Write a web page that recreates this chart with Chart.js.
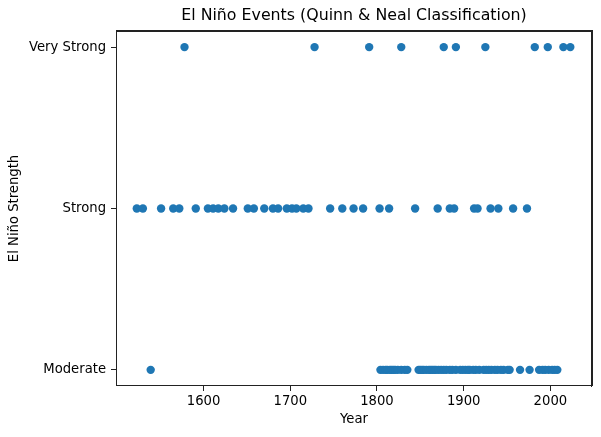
<!DOCTYPE html>
<html>
<head>
<meta charset="utf-8">
<script src="https://cdn.jsdelivr.net/npm/chart.js@4.4.1/dist/chart.umd.min.js"></script>
<style>
  html, body { margin: 0; padding: 0; background: #fff; }
  #wrap { width: 601px; height: 437px; position: relative; }
</style>
</head>
<body>
<div id="wrap"><canvas id="c"></canvas></div>
<script>
// Category labels (y axis, bottom to top)
const strengthLabels = ['Moderate', 'Strong', 'Very Strong'];
// X tick labels
const yearTicks = [1600, 1700, 1800, 1900, 2000];

// Event start years by strength
const moderateYears = [1539, 1804, 1807, 1810, 1812, 1815, 1817, 1819, 1821, 1824, 1828, 1832, 1835,
  1848, 1850, 1852, 1854, 1857, 1860, 1862, 1864, 1866, 1868, 1871, 1874, 1877, 1880, 1884, 1887,
  1891, 1896, 1899, 1902, 1905, 1907, 1911, 1914, 1918, 1923, 1926, 1929, 1932, 1936, 1939, 1943,
  1946, 1951, 1953, 1965, 1976, 1987, 1991, 1994, 1998, 2002, 2005, 2008];
const strongYears = [1523, 1530, 1551, 1565, 1572, 1591, 1605, 1611, 1617, 1624, 1634, 1651, 1658,
  1670, 1680, 1686, 1696, 1702, 1707, 1715, 1721, 1746, 1760, 1773, 1784, 1803, 1814, 1844, 1870,
  1884, 1889, 1912, 1916, 1931, 1940, 1957, 1973];
const veryStrongYears = [1578, 1728, 1791, 1828, 1877, 1891, 1925, 1982, 1997, 2015, 2023];

const pts = [];
moderateYears.forEach(y => pts.push({x: y, y: 0}));
strongYears.forEach(y => pts.push({x: y, y: 1}));
veryStrongYears.forEach(y => pts.push({x: y, y: 2}));

const FONT = "'DejaVu Sans', sans-serif";
const SPINE = '#222';

const frame = {
  id: 'frame',
  afterDraw(chart) {
    const {ctx, chartArea: a} = chart;
    const l = Math.round(a.left), t = Math.round(a.top), r = Math.round(a.right), b = Math.round(a.bottom);
    ctx.save();
    ctx.fillStyle = SPINE;
    ctx.fillRect(l, t, r - l, 1);
    ctx.fillRect(r - 1, t, 1, b - t + 1);
    ctx.restore();
  }
};

const spineOnly = (pos) => ({
  type: 'linear',
  position: pos,
  display: true,
  afterBuildTicks(s) { s.ticks = []; },
  afterFit(s) { if (pos === 'top') s.height = 0; else s.width = 0; },
  ticks: { display: false },
  grid: { display: true, drawOnChartArea: false, drawTicks: false, tickLength: 0 },
  border: { display: true, color: SPINE, width: 1 }
});

new Chart(document.getElementById('c'), {
  type: 'scatter',
  data: {
    datasets: [{
      label: 'El Niño events',
      data: pts,
      backgroundColor: '#1f77b4',
      borderColor: '#1f77b4',
      borderWidth: 0,
      pointRadius: 4.2,
      pointHoverRadius: 4.2
    }]
  },
  options: {
    responsive: true,
    maintainAspectRatio: false,
    animation: false,
    devicePixelRatio: 1,
    layout: { padding: { left: 0, right: 9, top: 0, bottom: 0 } },
    plugins: {
      legend: { display: false },
      tooltip: { enabled: false },
      title: {
        display: true,
        text: 'El Niño Events (Quinn & Neal Classification)',
        fullSize: false,
        color: '#000',
        font: { family: FONT, size: 15.8, weight: 'normal', lineHeight: 1.2 },
        padding: { top: 6, bottom: 6 }
      }
    },
    scales: {
      x: {
        type: 'linear',
        min: 1499,
        max: 2048,
        afterBuildTicks(s) { s.ticks = yearTicks.map(v => ({value: v})); },
        afterFit(s) { s.height = 51; },
        ticks: {
          color: '#000',
          font: { family: FONT, size: 13.2 },
          padding: 2.5,
          maxRotation: 0,
          callback: v => String(v)
        },
        grid: { display: true, drawOnChartArea: false, drawTicks: true, tickLength: 5, tickColor: SPINE },
        border: { display: true, color: SPINE, width: 1 },
        title: {
          display: true, text: 'Year', color: '#000',
          font: { family: FONT, size: 13.2, lineHeight: 1.2 },
          padding: { top: 0, bottom: 10 }
        }
      },
      xTop: Object.assign(spineOnly('top'), { min: 1499, max: 2048 }),
      y: {
        type: 'linear',
        min: -0.1,
        max: 2.1,
        afterBuildTicks(s) { s.ticks = strengthLabels.map((l, i) => ({value: i})); },
        afterFit(s) { s.width = 116; },
        ticks: {
          color: '#000',
          font: { family: FONT, size: 13.2 },
          padding: 5,
          callback: v => strengthLabels[v] !== undefined ? strengthLabels[v] : ''
        },
        grid: { display: true, drawOnChartArea: false, drawTicks: true, tickLength: 5, tickColor: SPINE },
        border: { display: true, color: SPINE, width: 1 },
        title: {
          display: true, text: 'El Niño Strength', color: '#000',
          font: { family: FONT, size: 13.2, lineHeight: 1.2 },
          padding: { top: 7, bottom: 0 }
        }
      },
      yRight: Object.assign(spineOnly('right'), { min: -0.1, max: 2.1 })
    }
  },
  plugins: [frame]
});
</script>
</body>
</html>
